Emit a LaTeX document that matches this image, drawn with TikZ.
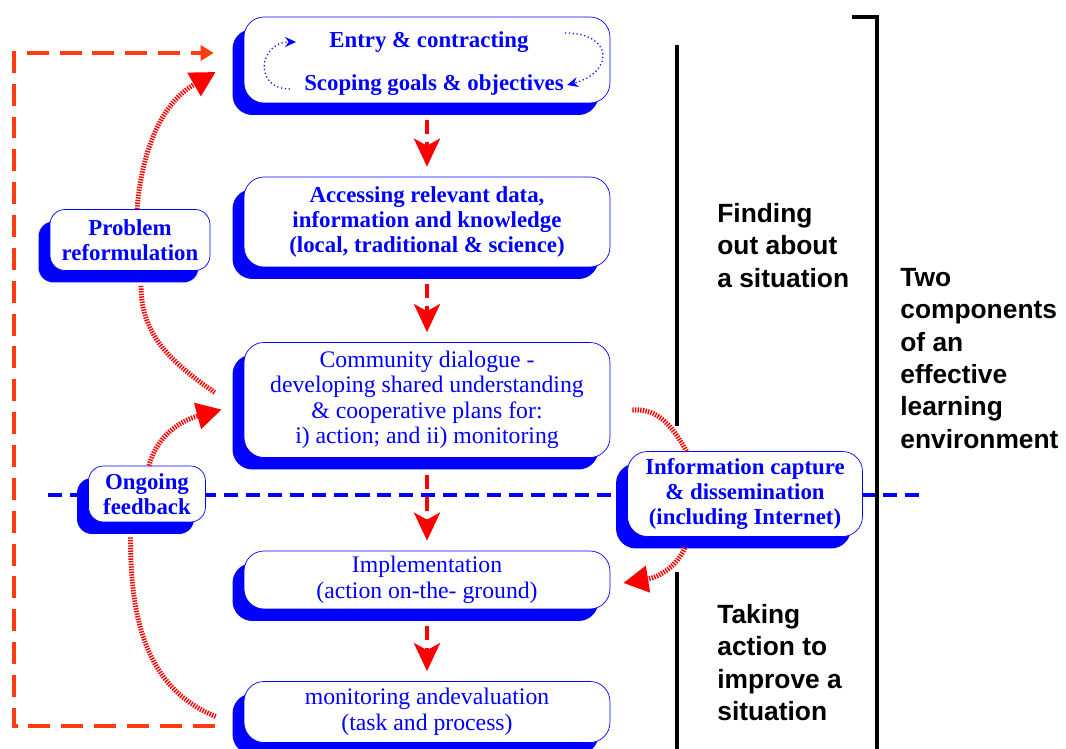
\documentclass[tikz,border=0pt]{standalone}
\usepackage{fontspec}
\setmainfont{Liberation Serif}
\setsansfont{Liberation Sans}
\usepackage{xcolor}
\usepackage{tikz}
\usetikzlibrary{arrows.meta}
\usetikzlibrary{shadows}

\definecolor{loopred}{RGB}{255,60,16}

\tikzset{
  stage/.style={draw=blue, fill=white, rounded corners=0.4cm, inner sep=0pt, align=center, text=blue,
    font=\fontsize{13.5}{14.5}\selectfont,
    general shadow={fill=blue, shadow xshift=-0.23cm, shadow yshift=-0.24cm}},
  boldstage/.style={stage, font=\fontsize{13}{14}\selectfont\bfseries},
  boxtext/.style={text=blue, inner sep=0pt, font=\fontsize{13}{14}\selectfont\bfseries},
  aside/.style={anchor=north west, align=left, inner sep=0pt, font=\sffamily\bfseries\fontsize{15}{18.4}\selectfont},
  flow/.style={red, line width=2.4pt, dash pattern=on 8pt off 4.5pt, -{Stealth[length=0.56cm, width=0.52cm, inset=0.14cm]}},
  feedloop/.style={loopred, line width=2.4pt, dash pattern=on 12.5pt off 6.2pt, -{Triangle[length=0.26cm, width=0.3cm]}},
  curl/.style={red, line width=2.8pt, dash pattern=on 0.8pt off 0.7pt},
  curlhead/.style={-{Triangle[length=0.5cm, width=0.52cm]}},
  spin/.style={blue, line width=0.7pt, dash pattern=on 0.7pt off 1.5pt, -{Stealth[length=0.22cm, width=0.2cm]}},
  divide/.style={blue, line width=2.3pt, dash pattern=on 8pt off 4.5pt},
  rule/.style={black, line width=2.3pt}
}

\begin{document}
\begin{tikzpicture}[x=0.02cm,y=0.02cm]
  \useasboundingbox (0,0) rectangle (1066,-749);

  % split between the two components
  \coordinate (splitL) at (48,-495);
  \coordinate (splitR) at (926,-495);
  \draw[divide] (splitL) -- (splitR);
  \draw[rule] (677,-45) -- (677,-426) (677,-572) -- (677,-749);
  \draw[rule] (852,-17) -- (877,-17) -- (877,-749);

  % stages
  \node[boldstage, minimum width=7.32cm, minimum height=1.72cm] (entry) at (427,-60) {};
  \node[boxtext] (contract) at (429,-42) {Entry \& contracting};
  \node[boxtext] (scoping) at (434,-85) {Scoping goals \& objectives};
  \node[boldstage, minimum width=7.32cm, minimum height=1.8cm] (access) at (427,-222) {Accessing relevant data,\\information and knowledge\\(local, traditional \& science)};
  \node[stage, minimum width=7.32cm, minimum height=2.3cm] (community) at (427,-400) {Community dialogue -\\developing shared understanding\\\& cooperative plans for:\\i) action; and ii) monitoring};
  \node[stage, minimum width=7.32cm, minimum height=1.16cm] (implementation) at (427,-580) {Implementation\\(action on-the- ground)};
  \node[stage, minimum width=7.32cm, minimum height=1.22cm] (monitor) at (427,-712) {monitoring andevaluation\\(task and process)};
  \node[boldstage, rounded corners=0.3cm, minimum width=3.2cm, minimum height=1.22cm] (problem) at (130,-240) {Problem\\reformulation};
  \node[boldstage, rounded corners=0.3cm, minimum width=2.34cm, minimum height=1.12cm] (ongoing) at (147,-494) {Ongoing\\feedback};
  \node[boldstage, minimum width=4.7cm, minimum height=1.7cm] (info) at (745,-494) {Information capture\\\& dissemination\\(including Internet)};

  % side labels
  \node[aside] (finding) at (717,-203) {Finding\\out about\\a situation};
  \node[aside] (taking) at (717,-604) {Taking\\action to\\improve a\\situation};
  \node[aside] (twocomp) at (900,-268) {Two\\components\\of an\\effective\\learning\\environment};

  % entry loop
  \draw[spin] ([xshift=-0.28cm, yshift=-0.08cm]scoping.west) to[out=180, in=180, looseness=2] ([xshift=-0.66cm]contract.west);
  \draw[spin] ([xshift=0.72cm, yshift=0.18cm]contract.east) to[out=0, in=15, looseness=2.4] ([xshift=0.06cm]scoping.east);

  % main flow
  \foreach \a/\b in {entry/access, access/community, community/implementation, implementation/monitor}
    \draw[flow] ([yshift=-0.34cm]\a.south) -- ([yshift=0.2cm]\b.north);

  \draw[feedloop] ([xshift=-0.58cm, yshift=-0.28cm]monitor.west) -- ++(-201,0) |- ([xshift=-0.6cm, yshift=0.14cm]entry.west);

  % feedback arcs
  \draw[curl, curlhead] ([xshift=0.14cm]problem.north) to[out=85, in=210] ([xshift=-0.56cm, yshift=-0.24cm]entry.west);
  \draw[curl] ([xshift=0.22cm, yshift=-0.3cm]problem.south) to[out=-90, in=145] ([xshift=-0.58cm, yshift=0.15cm]community.west);
  \draw[curl, curlhead] ([xshift=0.04cm]ongoing.north) to[out=75, in=195] ([xshift=-0.44cm, yshift=-0.19cm]community.west);
  \draw[curl] ([xshift=-0.33cm, yshift=-0.3cm]ongoing.south) to[out=-90, in=158] ([xshift=-0.56cm, yshift=-0.09cm]monitor.west);
  \draw[curl] ([xshift=0.44cm, yshift=-0.2cm]community.east) to[out=5, in=120] ([xshift=-1.17cm]info.north);
  \draw[curl, curlhead] ([xshift=-1.2cm, yshift=-0.22cm]info.south) to[out=-115, in=9] ([xshift=0.26cm, yshift=-0.06cm]implementation.east);
\end{tikzpicture}
\end{document}
